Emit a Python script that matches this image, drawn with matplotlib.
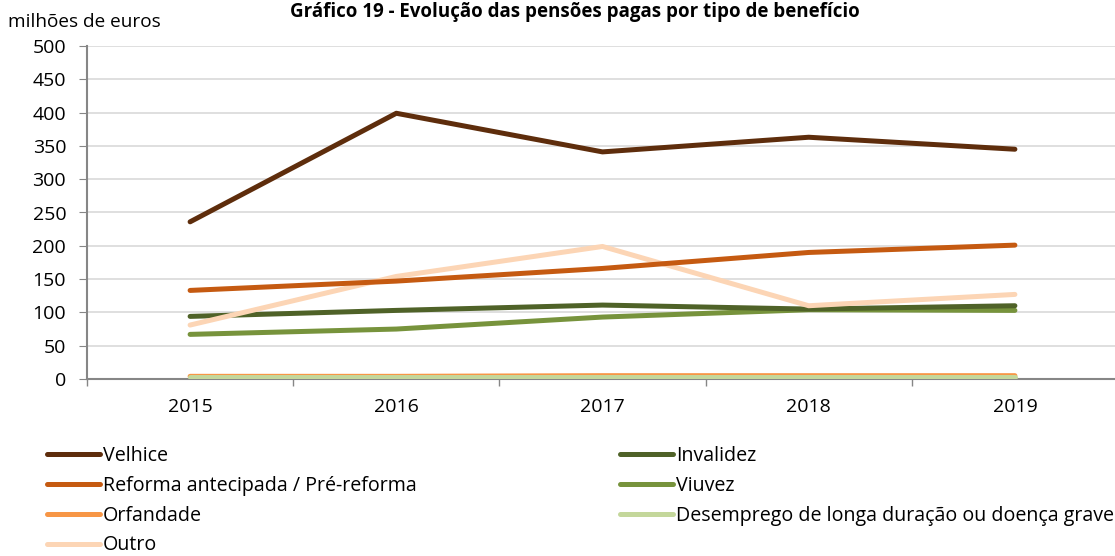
import matplotlib
matplotlib.use("Agg")
import matplotlib.pyplot as plt
from matplotlib.ticker import FixedLocator

plt.rcParams['font.family'] = ['Open Sans', 'DejaVu Sans']

years = ["2015", "2016", "2017", "2018", "2019"]
velhice = [236, 399, 341, 363, 345]
reforma = [133, 147, 166, 190, 201]
orfandade = [4, 4, 5, 5, 5]
outro = [81, 154, 199, 110, 127]
invalidez = [94, 103, 111, 105, 110]
viuvez = [67, 75, 93, 104, 103]
desemprego = [3, 3, 3, 3, 3]

series = [
    ("Velhice", velhice, "#5E2D0C"),
    ("Reforma antecipada / Pré-reforma", reforma, "#C55A11"),
    ("Orfandade", orfandade, "#F79646"),
    ("Outro", outro, "#FCD5B5"),
    ("Invalidez", invalidez, "#4F6228"),
    ("Viuvez", viuvez, "#77933C"),
    ("Desemprego de longa duração ou doença grave", desemprego, "#C4D79B"),
]
draw_order = [2, 6, 5, 4, 3, 1, 0]

fig = plt.figure(figsize=(11.15, 5.56), dpi=100)
ax = fig.add_axes([87/1115, 1-379/556, 1031/1115, 333/556])

x = list(range(len(years)))
handles = {}
for k, i in enumerate(draw_order):
    name, vals, col = series[i]
    h, = ax.plot(x, vals, color=col, lw=3.6, solid_capstyle='round', label=name, zorder=3+k*0.01)
    handles[i] = h

ax.set_xlim(-0.5, 4.5)
ax.set_ylim(0, 500)
ax.set_yticks(range(0, 501, 50))
ax.set_xticks(x)
ax.set_xticklabels(years)
ax.xaxis.set_minor_locator(FixedLocator([-0.5, 0.5, 1.5, 2.5, 3.5]))
ax.tick_params(axis='x', which='major', length=0, labelsize=14, pad=14)
ax.tick_params(axis='x', which='minor', length=5, color='#868686', width=1)
ax.tick_params(axis='y', length=6, color='#868686', labelsize=14, pad=9)
ax.grid(axis='y', color='#D9D9D9', lw=1.2)
ax.set_axisbelow(True)
for s in ['top', 'right']:
    ax.spines[s].set_visible(False)
for s in ['left', 'bottom']:
    ax.spines[s].set_color('#868686')
    ax.spines[s].set_linewidth(1.5)

fig.text(575/1115, 1-12/556, "Gráfico 19 - Evolução das pensões pagas por tipo de benefício",
         ha='center', va='center', fontsize=13.5, fontweight='bold')
fig.text(8/1115, 1-22/556, "milhões de euros", ha='left', va='center', fontsize=13.7)

leg_kw = dict(loc='upper left', frameon=False, fontsize=14.1,
              handlelength=2.7, handletextpad=0.15, labelspacing=0.5,
              borderaxespad=0, borderpad=0)
col1 = [0, 1, 2, 3]
col2 = [4, 5, 6]
fig.legend([handles[i] for i in col1], [series[i][0] for i in col1],
           bbox_to_anchor=(47/1115, 1-446/556), **leg_kw)
fig.legend([handles[i] for i in col2], [series[i][0] for i in col2],
           bbox_to_anchor=(620/1115, 1-446/556), **leg_kw)

fig.savefig("out.png", dpi=100)
